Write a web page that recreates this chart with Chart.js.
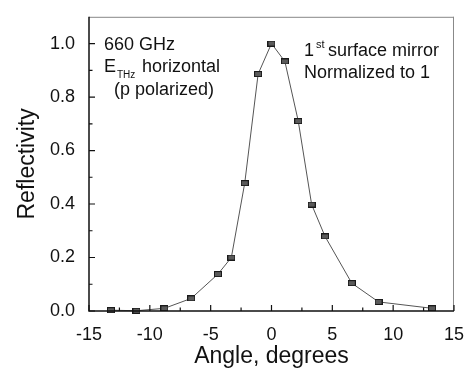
<!DOCTYPE html>
<html>
<head>
<meta charset="utf-8">
<script src="https://cdn.jsdelivr.net/npm/chart.js@4"></script>
<style>
  html, body { margin: 0; padding: 0; background: #fff; }
  #wrap { width: 469px; height: 372px; }
</style>
</head>
<body>
<div id="wrap"><canvas id="c" width="469" height="372"></canvas></div>
<script>
// ---- Data ----
const angles = [-13.2, -11.1, -8.8, -6.6, -4.4, -3.3, -2.2, -1.1, 0, 1.1, 2.2, 3.3, 4.4, 6.6, 8.8, 13.2];
const reflectivity = [0.003, 0.001, 0.01, 0.047, 0.138, 0.2, 0.478, 0.886, 1.0, 0.933, 0.71, 0.398, 0.279, 0.104, 0.034, 0.01];
const xTickValues = [-15, -10, -5, 0, 5, 10, 15];
const yTickValues = [0, 0.2, 0.4, 0.6, 0.8, 1.0];
const xMinorValues = [-12.5, -7.5, -2.5, 2.5, 7.5, 12.5];
const yMinorValues = [0.1, 0.3, 0.5, 0.7, 0.9];
const xTitle = 'Angle, degrees';
const yTitle = 'Reflectivity';

const FONT = '"Liberation Sans", Arial, sans-serif';

// marker: small dark rectangle
const marker = document.createElement('canvas');
marker.width = 8; marker.height = 6;
(function () {
  const m = marker.getContext('2d');
  m.fillStyle = '#1a1a1a';
  m.fillRect(0, 0, 8, 6);
  m.fillStyle = '#5a5a5a';
  m.fillRect(1, 1, 6, 4);
})();

const framePlugin = {
  id: 'frame',
  afterDatasetsDraw(chart) {
    const { ctx, chartArea: a, scales: { x, y } } = chart;
    ctx.save();
    // top & right borders (lighter)
    ctx.strokeStyle = '#888';
    ctx.lineWidth = 1;
    ctx.beginPath();
    ctx.moveTo(a.left, a.top + 0.5); ctx.lineTo(a.right, a.top + 0.5);
    ctx.moveTo(a.right - 0.5, a.top); ctx.lineTo(a.right - 0.5, a.bottom);
    ctx.stroke();
    // left & bottom axes
    ctx.strokeStyle = '#111';
    ctx.lineWidth = 1.5;
    ctx.beginPath();
    ctx.moveTo(a.left, a.top); ctx.lineTo(a.left, a.bottom);
    ctx.lineTo(a.right, a.bottom);
    ctx.stroke();
    // inward ticks
    ctx.lineWidth = 1.2;
    ctx.beginPath();
    xTickValues.forEach(v => { const p = x.getPixelForValue(v); ctx.moveTo(p, a.bottom); ctx.lineTo(p, a.bottom - 6); });
    xMinorValues.forEach(v => { const p = x.getPixelForValue(v); ctx.moveTo(p, a.bottom); ctx.lineTo(p, a.bottom - 3.5); });
    yTickValues.forEach(v => { const p = y.getPixelForValue(v); ctx.moveTo(a.left, p); ctx.lineTo(a.left + 6, p); });
    yMinorValues.forEach(v => { const p = y.getPixelForValue(v); ctx.moveTo(a.left, p); ctx.lineTo(a.left + 3.5, p); });
    ctx.stroke();

    // annotations
    ctx.fillStyle = '#111';
    ctx.textBaseline = 'alphabetic';
    ctx.textAlign = 'left';
    ctx.font = '18px ' + FONT;
    ctx.fillText('660 GHz', 104, 50);
    ctx.fillText('E', 104, 72);
    ctx.font = '10px ' + FONT;
    ctx.fillText('THz', 117, 78);
    ctx.font = '18px ' + FONT;
    ctx.fillText('horizontal', 142, 72);
    ctx.fillText('(p polarized)', 114, 95);

    ctx.fillText('1', 304, 56);
    ctx.font = '11px ' + FONT;
    ctx.fillText('st', 316, 48);
    ctx.font = '18px ' + FONT;
    ctx.fillText('surface mirror', 328, 56);
    ctx.fillText('Normalized to 1', 304, 78);
    ctx.restore();
  }
};

new Chart(document.getElementById('c'), {
  type: 'scatter',
  data: {
    datasets: [{
      data: angles.map((a, i) => ({ x: a, y: reflectivity[i] })),
      showLine: true,
      borderColor: '#555',
      borderWidth: 1,
      pointStyle: marker,
      pointRadius: 4,
      pointHoverRadius: 4,
      clip: false
    }]
  },
  options: {
    responsive: false,
    animation: false,
    events: [],
    layout: { padding: { left: 0, right: 12, top: 12, bottom: 0 } },
    plugins: { legend: { display: false }, tooltip: { enabled: false } },
    scales: {
      x: {
        type: 'linear',
        min: -15, max: 15,
        afterFit: s => { s.height = 61; },
        afterBuildTicks: s => { s.ticks = xTickValues.map(v => ({ value: v })); },
        grid: { display: false },
        border: { display: false },
        ticks: {
          padding: 5,
          color: '#111',
          font: { family: FONT, size: 18 },
          maxRotation: 0,
          callback: v => String(v)
        },
        title: {
          display: true, text: xTitle, color: '#111',
          font: { family: FONT, size: 23 },
          padding: { top: 0, bottom: 2 }
        }
      },
      y: {
        type: 'linear',
        min: 0, max: 1.1,
        afterFit: s => { s.width = 89; },
        afterBuildTicks: s => { s.ticks = yTickValues.map(v => ({ value: v })); },
        grid: { display: false },
        border: { display: false },
        ticks: {
          padding: 6,
          color: '#111',
          font: { family: FONT, size: 18 },
          callback: v => Number(v).toFixed(1)
        },
        title: {
          display: true, text: yTitle, color: '#111',
          font: { family: FONT, size: 23 },
          padding: { top: 14, bottom: 0 }
        }
      }
    }
  },
  plugins: [framePlugin]
});
</script>
</body>
</html>
